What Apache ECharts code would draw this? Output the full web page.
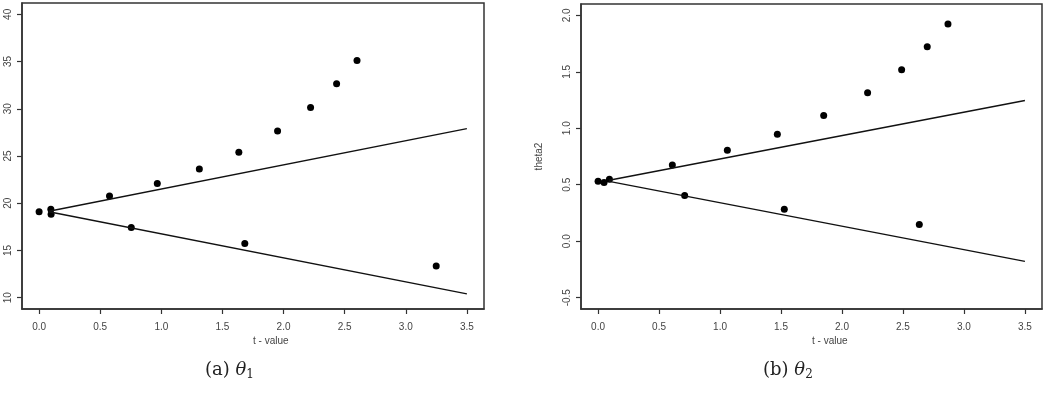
<!DOCTYPE html>
<html>
<head>
<meta charset="utf-8">
<script src="https://cdn.jsdelivr.net/npm/echarts@6/dist/echarts.min.js"></script>
<style>
  html, body { margin: 0; padding: 0; background: #fff; }
  #chart { width: 1054px; height: 393px; }
</style>
</head>
<body>
<div id="chart"></div>
<script>
// tick labels
const tTicks = [0, 0.5, 1, 1.5, 2, 2.5, 3, 3.5]
const theta1Ticks = [10, 15, 20, 25, 30, 35, 40]
const theta2Ticks = [-0.5, 0, 0.5, 1, 1.5, 2]

// panel (a): theta1
const theta1T = [0.0, 0.096, 0.098, 0.576, 0.967, 1.311, 1.634, 1.951, 2.221, 2.434, 2.601, 0.754, 1.683, 3.249]
const theta1V = [19.1, 19.37, 18.84, 20.77, 22.1, 23.63, 25.39, 27.64, 30.14, 32.64, 35.1, 17.43, 15.74, 13.35]
const theta1Upper = [[0.08, 19.15], [3.5, 27.9]]
const theta1Lower = [[0.08, 19.1], [3.5, 10.4]]

// panel (b): theta2
const theta2T = [0.0, 0.049, 0.093, 0.609, 1.06, 1.47, 1.85, 2.21, 2.489, 2.699, 2.869, 0.71, 1.527, 2.634]
const theta2V = [0.531, 0.519, 0.548, 0.675, 0.805, 0.946, 1.114, 1.314, 1.518, 1.721, 1.924, 0.405, 0.284, 0.148]
const theta2Upper = [[0.09, 0.54], [3.5, 1.246]]
const theta2Lower = [[0.09, 0.53], [3.5, -0.178]]

const chart = echarts.init(document.getElementById('chart'))

const labelStyle = { fontFamily: 'Liberation Sans', fontSize: 10, color: '#444' }
const axisLineStyle = { show: true, onZero: false, lineStyle: { color: '#333', width: 1.5 } }
const tickStyle = { show: true, length: 5, lineStyle: { color: '#333', width: 1.2 } }

const xAxisFor = (gridIndex) => ({
  type: 'value',
  gridIndex,
  position: 'bottom',
  min: -0.14,
  max: 3.64,
  splitLine: { show: false },
  axisLine: axisLineStyle,
  axisTick: { ...tickStyle, customValues: tTicks },
  axisLabel: { ...labelStyle, margin: 13, customValues: tTicks, formatter: v => v.toFixed(1) }
})

const yAxisFor = (gridIndex, min, max, ticks, fmt, name) => ({
  type: 'value',
  gridIndex,
  position: 'left',
  min,
  max,
  name,
  nameLocation: 'middle',
  nameRotate: 90,
  nameGap: 37,
  nameTextStyle: { fontFamily: 'Liberation Sans', fontSize: 10, color: '#444' },
  splitLine: { show: false },
  axisLine: axisLineStyle,
  axisTick: { ...tickStyle, customValues: ticks },
  axisLabel: { ...labelStyle, rotate: 90, margin: 9, customValues: ticks, formatter: fmt }
})

const zip = (a, b) => a.map((x, i) => [x, b[i]])

const lineSeries = (data, idx) => ({
  type: 'line',
  xAxisIndex: idx,
  yAxisIndex: idx,
  data,
  symbol: 'none',
  lineStyle: { color: '#111', width: 1.4 },
  silent: true
})

const dotSeries = (data, idx) => ({
  type: 'scatter',
  xAxisIndex: idx,
  yAxisIndex: idx,
  data,
  symbol: 'circle',
  symbolSize: 7,
  itemStyle: { color: '#000', opacity: 1 }
})

const caption = (text, x) => ({
  type: 'text',
  left: x,
  top: 361,
  style: {
    text,
    fontFamily: 'DejaVu Serif',
    fontSize: 18,
    fill: '#222',
    rich: {
      t: { fontFamily: 'DejaVu Serif', fontStyle: 'italic', fontSize: 18, fill: '#222' },
      s: { fontFamily: 'DejaVu Serif', fontSize: 12, fill: '#222', padding: [10, 0, 0, 0] }
    }
  }
})

const option = {
  animation: false,
  grid: [
    { left: 22, top: 3, width: 462, height: 306, show: true, borderColor: '#333', borderWidth: 1.5 },
    { left: 581, top: 4, width: 461, height: 305, show: true, borderColor: '#333', borderWidth: 1.5 }
  ],
  xAxis: [xAxisFor(0), xAxisFor(1)],
  yAxis: [
    yAxisFor(0, 8.8, 41.2, theta1Ticks, v => String(v), ''),
    yAxisFor(1, -0.6, 2.1, theta2Ticks, v => v.toFixed(1), 'theta2')
  ],
  series: [
    lineSeries(theta1Upper, 0),
    lineSeries(theta1Lower, 0),
    dotSeries(zip(theta1T, theta1V), 0),
    lineSeries(theta2Upper, 1),
    lineSeries(theta2Lower, 1),
    dotSeries(zip(theta2T, theta2V), 1)
  ],
  graphic: [
    { type: 'text', left: 253, top: 336, style: { text: 't - value', fontFamily: 'Liberation Sans', fontSize: 10, fill: '#444' } },
    { type: 'text', left: 812, top: 336, style: { text: 't - value', fontFamily: 'Liberation Sans', fontSize: 10, fill: '#444' } },
    caption('(a) {t|θ}{s|1}', 205),
    caption('(b) {t|θ}{s|2}', 763)
  ]
}

chart.setOption(option)
</script>
</body>
</html>
